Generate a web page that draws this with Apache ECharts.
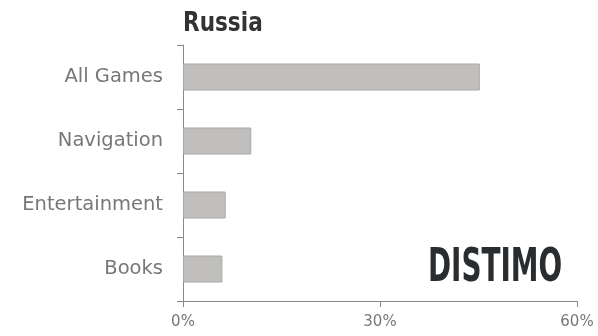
<!DOCTYPE html>
<html>
<head>
<meta charset="utf-8">
<script src="https://cdn.jsdelivr.net/npm/echarts@6/dist/echarts.min.js"></script>
<style>
  html, body { margin: 0; padding: 0; background: #fff; }
  #chart { width: 598px; height: 336px; }
</style>
</head>
<body>
<div id="chart"></div>
<script>
// Share of downloads by category (percent)
const categories = ['All Games', 'Navigation', 'Entertainment', 'Books'];
const shares = [45.2, 10.4, 6.5, 6.0];
const titleText = 'Russia';
const brandText = 'DISTIMO';

const chart = echarts.init(document.getElementById('chart'));
chart.setOption({
  animation: false,
  grid: { left: 183, right: 21, top: 45, bottom: 35 },
  xAxis: {
    type: 'value',
    min: 0,
    max: 60,
    interval: 30,
    axisLine: { show: true, lineStyle: { color: '#8a8a8a', width: 1 } },
    axisTick: { show: true, length: 6, lineStyle: { color: '#8a8a8a' } },
    splitLine: { show: false },
    axisLabel: {
      formatter: '{value}%',
      color: '#777777',
      fontFamily: '"DejaVu Sans", sans-serif',
      fontSize: 15,
      margin: 14
    }
  },
  yAxis: {
    type: 'category',
    data: categories,
    inverse: true,
    axisLine: { show: true, lineStyle: { color: '#8a8a8a', width: 1 } },
    axisTick: { show: true, length: 6, lineStyle: { color: '#8a8a8a' } },
    axisLabel: {
      color: '#777777',
      fontFamily: '"DejaVu Sans", sans-serif',
      fontSize: 19.5,
      margin: 20
    }
  },
  series: [{
    type: 'bar',
    data: shares,
    barWidth: 27,
    itemStyle: {
      color: '#c0bfbd',
      borderColor: '#a9a8a6',
      borderWidth: 1
    }
  }],
  graphic: [{
    // chart title, condensed bold
    type: 'text',
    x: 183,
    y: 24,
    scaleX: 0.8,
    style: {
      text: titleText,
      font: 'bold 27px "DejaVu Sans", sans-serif',
      fill: '#333333',
      verticalAlign: 'middle'
    }
  }, {
    // brand mark
    type: 'text',
    x: 428,
    y: 269,
    scaleX: 0.605,
    style: {
      text: brandText,
      font: 'bold 46px "DejaVu Sans", sans-serif',
      fill: '#2a2d30',
      verticalAlign: 'middle'
    }
  }]
});
</script>
</body>
</html>
